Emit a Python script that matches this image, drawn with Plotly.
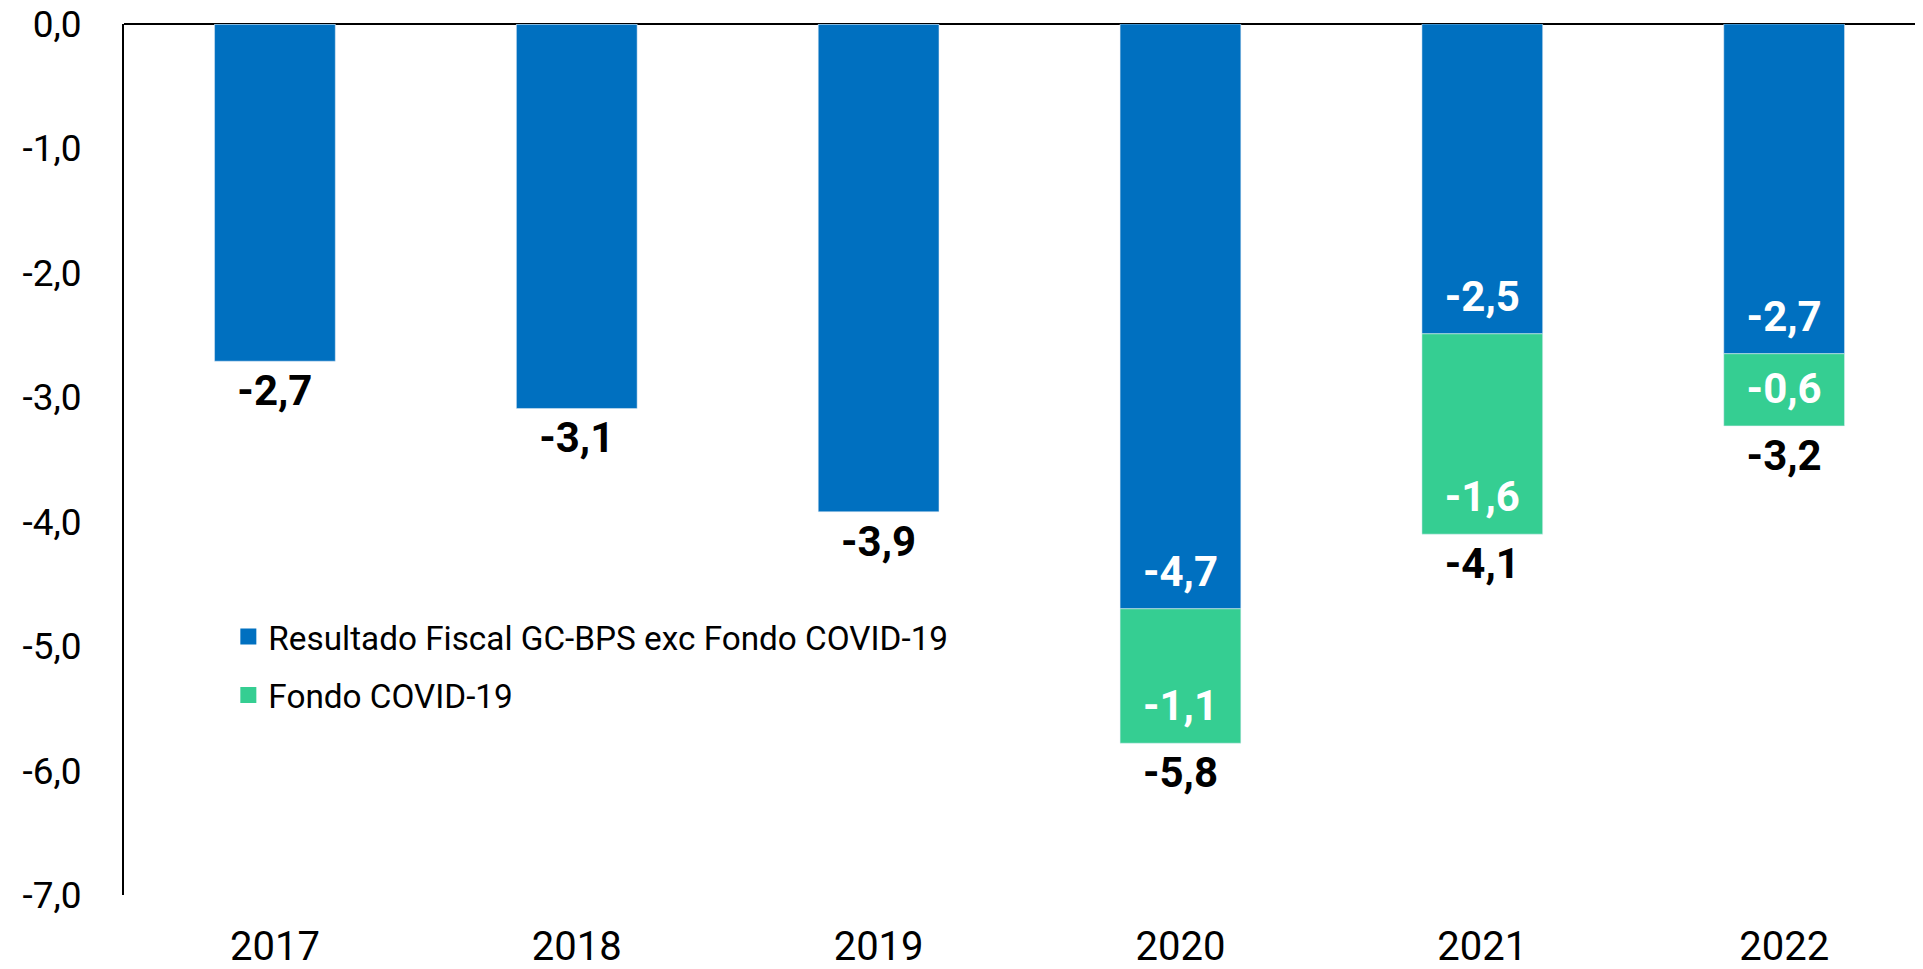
"""Resultado fiscal GC-BPS con y sin Fondo COVID-19 (% del PIB)."""

import plotly.graph_objects as go

FONT = "Roboto, Lato, sans-serif"
BLUE = "#0070C0"
GREEN = "#35CE92"

years = ["2017", "2018", "2019", "2020", "2021", "2022"]
resultado = [-2.71, -3.09, -3.92, -4.70, -2.49, -2.65]
fondo = [0.0, 0.0, 0.0, -1.08, -1.61, -0.58]
totals = [r + f for r, f in zip(resultado, fondo)]

# labels as published (rounded in the source table)
resultado_lbl = ["", "", "", "-4,7", "-2,5", "-2,7"]
fondo_lbl = ["", "", "", "-1,1", "-1,6", "-0,6"]
total_lbl = ["-2,7", "-3,1", "-3,9", "-5,8", "-4,1", "-3,2"]

LABEL_SIZE = 42
fig = go.Figure()
fig.add_trace(go.Bar(x=years, y=resultado, marker=dict(color=BLUE), showlegend=False, hoverinfo="x+y"))
fig.add_trace(go.Bar(x=years, y=fondo, marker=dict(color=GREEN), showlegend=False, hoverinfo="x+y"))

# value labels: inside the end of each segment, and the total below the stack
for ys, lbl, pos, color in [
    (resultado, resultado_lbl, "top center", "white"),
    (totals, fondo_lbl, "top center", "white"),
    (totals, total_lbl, "bottom center", "black"),
]:
    fig.add_trace(
        go.Scatter(
            x=years,
            y=ys,
            mode="markers+text",
            text=lbl,
            textposition=pos,
            marker=dict(size=18, opacity=0),
            textfont=dict(color=color, size=LABEL_SIZE, family=FONT, weight="bold"),
            showlegend=False,
            hoverinfo="skip",
        )
    )

# legend entries with larger square swatches
for name, color in [("Resultado Fiscal GC-BPS exc Fondo COVID-19", BLUE), ("Fondo COVID-19", GREEN)]:
    fig.add_trace(
        go.Scatter(
            x=[None],
            y=[None],
            mode="markers",
            name=name,
            legendgroup=name,
            marker=dict(symbol="square", size=18, color=color),
        )
    )

ticks = [0, -1, -2, -3, -4, -5, -6, -7]
fig.update_layout(
    barmode="relative",
    bargap=0.6,
    width=1915,
    height=961,
    paper_bgcolor="white",
    plot_bgcolor="white",
    font=dict(family=FONT, size=38, color="black"),
    margin=dict(l=116, r=0, t=16, b=74),
    legend=dict(
        x=0.058,
        y=0.329,
        xanchor="left",
        yanchor="top",
        font=dict(size=33.3, family=FONT),
        bgcolor="rgba(0,0,0,0)",
        itemwidth=30,
        tracegroupgap=12,
    ),
    xaxis=dict(
        range=[-0.5, 5.46],
        showline=False,
        showgrid=False,
        ticks="",
        automargin=False,
        ticklabelstandoff=24,
        tickfont=dict(size=40),
    ),
    yaxis=dict(
        range=[-7, 0],
        tickvals=ticks,
        ticktext=["0,0", "-1,0", "-2,0", "-3,0", "-4,0", "-5,0", "-6,0", "-7,0"],
        showgrid=False,
        showline=True,
        linecolor="black",
        linewidth=2,
        zeroline=True,
        zerolinecolor="black",
        zerolinewidth=2,
        ticks="",
        automargin=False,
        ticklabeloverflow="allow",
        ticklabelstandoff=33,
        tickfont=dict(size=37),
    ),
)

fig.write_html("out.html")
